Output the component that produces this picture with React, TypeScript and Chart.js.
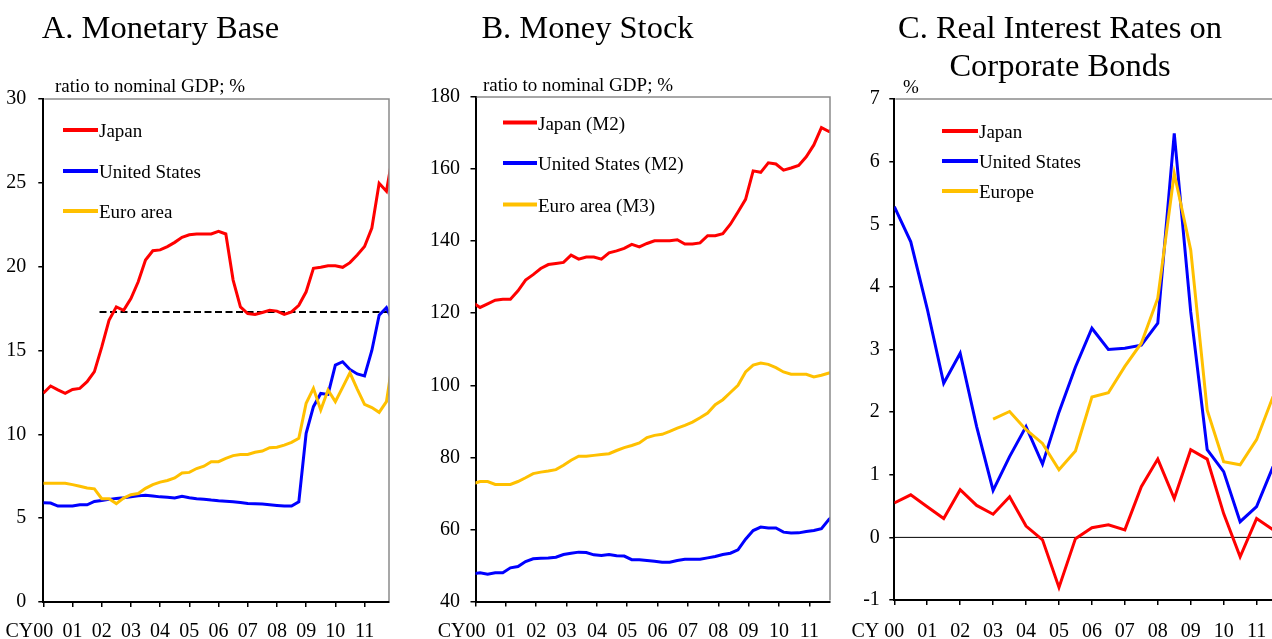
import React, { useEffect, useRef } from "react";
import { Chart, registerables } from "chart.js";

Chart.register(...registerables);

const SERIF = '"Liberation Serif", "Times New Roman", Times, serif';
const RED = "#ff0000";
const BLUE = "#0000ff";
const GOLD = "#ffc000";

// Year tick labels (CY2000 .. CY2011)
const yearLabels = ["00", "01", "02", "03", "04", "05", "06", "07", "08", "09", "10", "11"];

// ---- Panel A: Monetary Base, ratio to nominal GDP (%), quarterly from 2000Q1 ----
const baseJapan = [
  12.45, 12.88, 12.65, 12.44, 12.68, 12.74, 13.14, 13.74, 15.2, 16.8,
  17.6, 17.4, 18.1, 19.1, 20.4, 20.95, 21.0, 21.2, 21.45, 21.75,
  21.9, 21.95, 21.95, 21.95, 22.1, 21.95, 19.2, 17.6, 17.2, 17.15,
  17.27, 17.4, 17.35, 17.15, 17.3, 17.7, 18.5, 19.9, 19.96, 20.05,
  20.05, 19.96, 20.24, 20.7, 21.2, 22.3, 24.97, 24.5, 27.0,
];
const baseUS = [
  5.92, 5.9, 5.72, 5.72, 5.72, 5.8, 5.8, 6.0, 6.06, 6.12,
  6.18, 6.22, 6.27, 6.33, 6.37, 6.32, 6.27, 6.25, 6.2, 6.3,
  6.22, 6.16, 6.13, 6.08, 6.04, 6.01, 5.98, 5.93, 5.88, 5.86,
  5.84, 5.8, 5.76, 5.72, 5.72, 5.98, 10.06, 11.65, 12.44, 12.38,
  14.13, 14.33, 13.87, 13.6, 13.48, 15.0, 17.1, 17.55, 16.6,
];
const baseEuro = [
  7.08, 7.08, 7.08, 7.08, 7.0, 6.9, 6.8, 6.75, 6.16, 6.16,
  5.87, 6.2, 6.4, 6.47, 6.78, 7.0, 7.15, 7.25, 7.4, 7.7,
  7.73, 7.96, 8.1, 8.37, 8.37, 8.57, 8.73, 8.8, 8.8, 8.93,
  9.0, 9.2, 9.23, 9.36, 9.52, 9.76, 11.85, 12.74, 11.45, 12.64,
  11.95, 12.8, 13.67, 12.7, 11.79, 11.6, 11.31, 11.95, 14.8,
];
const baseRefLevel = 17.3; // dashed reference level
const baseRefFrom = 7.7; // quarter index where dashed line begins

// ---- Panel B: Money Stock, ratio to nominal GDP (%), quarterly ----
const m2Japan = [
  123.0, 121.6, 122.6, 123.6, 123.9, 123.9, 126.2, 129.2, 130.7, 132.4,
  133.5, 133.8, 134.1, 136.1, 135.0, 135.6, 135.6, 135.0, 136.75, 137.3,
  138.0, 139.1, 138.4, 139.35, 140.1, 140.1, 140.1, 140.4, 139.2, 139.2,
  139.5, 141.5, 141.5, 142.1, 144.7, 148.1, 151.6, 159.5, 159.1, 161.75,
  161.4, 159.7, 160.3, 161.0, 163.4, 166.7, 171.5, 170.4, 172.0,
];
const m2US = [
  47.7, 48.0, 47.6, 48.0, 48.0, 49.35, 49.7, 51.1, 51.85, 52.0,
  52.05, 52.3, 53.05, 53.4, 53.7, 53.6, 52.95, 52.8, 53.05, 52.7,
  52.6, 51.6, 51.6, 51.4, 51.2, 50.9, 50.9, 51.4, 51.7, 51.7,
  51.7, 52.1, 52.5, 53.05, 53.4, 54.35, 57.3, 59.7, 60.65, 60.4,
  60.4, 59.25, 59.0, 59.05, 59.45, 59.7, 60.2, 62.8, 64.5,
];
const m3Euro = [
  72.6, 73.3, 73.3, 72.5, 72.5, 72.5, 73.3, 74.35, 75.5, 75.9,
  76.2, 76.6, 77.8, 79.2, 80.3, 80.3, 80.55, 80.8, 81.0, 81.9,
  82.7, 83.3, 84.0, 85.5, 86.1, 86.4, 87.2, 88.1, 88.9, 89.8,
  91.0, 92.3, 94.6, 96.0, 98.0, 100.0, 103.7, 105.6, 106.2, 105.8,
  104.9, 103.7, 103.05, 103.05, 103.05, 102.3, 102.8, 103.4, 103.8,
];

// ---- Panel C: Real interest rates on corporate bonds (%), half-yearly ----
const rateJapan = [
  0.55, 0.68, 0.49, 0.3, 0.76, 0.51, 0.37, 0.65, 0.18, -0.04,
  -0.8, -0.02, 0.155, 0.2, 0.12, 0.81, 1.25, 0.62, 1.4, 1.25,
  0.38, -0.31, 0.3, 0.12,
];
const rateUS = [
  5.28, 4.72, 3.65, 2.46, 2.94, 1.77, 0.75, 1.29, 1.77, 1.17,
  2.0, 2.72, 3.34, 3.0, 3.02, 3.07, 3.42, 6.45, 3.6, 1.4,
  1.05, 0.25, 0.49, 1.13,
];
const rateEurope: (number | null)[] = [
  null, null, null, null, null, null, 1.89, 2.01, 1.72, 1.5,
  1.08, 1.38, 2.24, 2.31, 2.73, 3.1, 3.82, 5.81, 4.59, 2.03,
  1.21, 1.16, 1.56, 2.25,
];

type Series = { label: string; color: string; values: (number | null)[]; order: number };

interface PanelSpec {
  pageLeft: number;
  canvasWidth: number;
  yWidth: number;
  padRight: number;
  padTop: number;
  xHeight: number;
  yMin: number;
  yMax: number;
  yStep: number;
  yPad: number;
  xMax: number;
  pointStart: number;
  pointStep: number;
  tickStep: number;
  series: Series[];
  refLine?: { level: number; from: number };
  titles: string[];
  titleX: number;
  unit: string;
  unitX: number;
  unitY: number;
  legendX0: number;
  legendX1: number;
  legendRows: number[];
  cyPrefix: string;
  zeroLine: boolean;
}

const panels: PanelSpec[] = [
  {
    pageLeft: 0,
    canvasWidth: 420,
    yWidth: 43.3,
    padRight: 31,
    padTop: 99,
    xHeight: 37,
    yMin: 0,
    yMax: 30,
    yStep: 5,
    yPad: 12,
    xMax: 47.35,
    pointStart: 0,
    pointStep: 1,
    tickStep: 4,
    series: [
      { label: "Japan", color: RED, values: baseJapan, order: 3 },
      { label: "United States", color: BLUE, values: baseUS, order: 2 },
      { label: "Euro area", color: GOLD, values: baseEuro, order: 1 },
    ],
    refLine: { level: baseRefLevel, from: baseRefFrom },
    titles: ["A. Monetary Base"],
    titleX: 160.5,
    unit: "ratio to nominal GDP; %",
    unitX: 55,
    unitY: 92,
    legendX0: 63,
    legendX1: 98,
    legendRows: [130, 171, 211],
    cyPrefix: "CY",
    zeroLine: false,
  },
  {
    pageLeft: 420,
    canvasWidth: 430,
    yWidth: 55.5,
    padRight: 20,
    padTop: 97,
    xHeight: 37.5,
    yMin: 40,
    yMax: 180,
    yStep: 20,
    yPad: 10.5,
    xMax: 46.73,
    pointStart: -0.4,
    pointStep: 1,
    tickStep: 4,
    series: [
      { label: "Japan (M2)", color: RED, values: m2Japan, order: 3 },
      { label: "United States (M2)", color: BLUE, values: m2US, order: 2 },
      { label: "Euro area (M3)", color: GOLD, values: m3Euro, order: 1 },
    ],
    titles: ["B. Money Stock"],
    titleX: 167.5,
    unit: "ratio to nominal GDP; %",
    unitX: 63,
    unitY: 91,
    legendX0: 83,
    legendX1: 117,
    legendRows: [122.5, 163, 204.5],
    cyPrefix: "CY",
    zeroLine: false,
  },
  {
    pageLeft: 840,
    canvasWidth: 460,
    yWidth: 54.3,
    padRight: 22,
    padTop: 99,
    xHeight: 39,
    yMin: -1,
    yMax: 7,
    yStep: 1,
    yPad: 9.5,
    xMax: 23.3,
    pointStart: 0,
    pointStep: 1,
    tickStep: 2,
    series: [
      { label: "Japan", color: RED, values: rateJapan, order: 3 },
      { label: "United States", color: BLUE, values: rateUS, order: 2 },
      { label: "Europe", color: GOLD, values: rateEurope, order: 1 },
    ],
    titles: ["C. Real Interest Rates on", "Corporate Bonds"],
    titleX: 220,
    unit: "%",
    unitX: 63,
    unitY: 93,
    legendX0: 102,
    legendX1: 138,
    legendRows: [131, 161, 191],
    cyPrefix: "CY ",
    zeroLine: true,
  },
];

function makeOverlay(spec: PanelSpec) {
  return {
    id: "overlay",
    beforeDatasetsDraw(chart: any) {
      if (!spec.zeroLine) return;
      const { left, right } = chart.chartArea;
      const y = chart.scales.y.getPixelForValue(0);
      const ctx = chart.ctx;
      ctx.save();
      ctx.strokeStyle = "#000";
      ctx.lineWidth = 1;
      ctx.beginPath();
      ctx.moveTo(left, y);
      ctx.lineTo(right, y);
      ctx.stroke();
      ctx.restore();
    },
    afterDraw(chart: any) {
      const ctx = chart.ctx;
      const { left, right, top, bottom } = chart.chartArea;
      ctx.save();
      // gray frame on top and right
      ctx.strokeStyle = "#8a8a8a";
      ctx.lineWidth = 1.5;
      ctx.beginPath();
      ctx.moveTo(left + 1, top);
      ctx.lineTo(right, top);
      ctx.lineTo(right, bottom - 1);
      ctx.stroke();

      ctx.fillStyle = "#000";
      // titles
      ctx.font = `32.5px ${SERIF}`;
      ctx.textAlign = "center";
      ctx.textBaseline = "alphabetic";
      spec.titles.forEach((t, i) => ctx.fillText(t, spec.titleX, 38 + i * 38));
      // unit label
      ctx.font = `19px ${SERIF}`;
      ctx.textAlign = "left";
      ctx.fillText(spec.unit, spec.unitX, spec.unitY);
      // legend
      spec.series.forEach((s, i) => {
        const y = spec.legendRows[i];
        ctx.strokeStyle = s.color;
        ctx.lineWidth = 4;
        ctx.beginPath();
        ctx.moveTo(spec.legendX0, y);
        ctx.lineTo(spec.legendX1, y);
        ctx.stroke();
        ctx.fillStyle = "#000";
        ctx.fillText(s.label, spec.legendX1 + 1, y + 7);
      });
      // x tick labels
      const xs = chart.scales.x;
      ctx.font = `20px ${SERIF}`;
      yearLabels.forEach((lab, i) => {
        const px = xs.getPixelForValue(i * spec.tickStep);
        ctx.textAlign = "center";
        ctx.fillText(lab, px, 636.5);
        if (i === 0) {
          const w = ctx.measureText(lab).width;
          ctx.textAlign = "right";
          ctx.fillText(spec.cyPrefix, px - w / 2, 636.5);
        }
      });
      ctx.restore();
    },
  };
}

function Panel({ spec }: { spec: PanelSpec }) {
  const ref = useRef<HTMLCanvasElement | null>(null);
  useEffect(() => {
    if (!ref.current) return;
    const toPoints = (vals: (number | null)[]) =>
      vals.map((v, i) => ({ x: spec.pointStart + i * spec.pointStep, y: v }));
    const datasets: any[] = spec.series.map((s) => ({
      label: s.label,
      data: toPoints(s.values),
      borderColor: s.color,
      backgroundColor: s.color,
      borderWidth: 3,
      pointRadius: 0,
      fill: false,
      tension: 0,
      spanGaps: false,
      order: s.order,
      clip: { left: 0, right: 0, top: 4, bottom: 4 },
    }));
    if (spec.refLine) {
      datasets.push({
        label: "reference",
        data: [
          { x: spec.refLine.from, y: spec.refLine.level },
          { x: spec.xMax, y: spec.refLine.level },
        ],
        borderColor: "#000",
        borderWidth: 2,
        borderDash: [7, 3.5],
        pointRadius: 0,
        fill: false,
        order: 4,
        clip: { left: 0, right: 0, top: 4, bottom: 4 },
      });
    }
    const xTicks: number[] = yearLabels.map((_, i) => i * spec.tickStep);
    const gridOpts = {
      display: true,
      drawOnChartArea: false,
      drawTicks: true,
      tickLength: 5,
      color: "#000",
      lineWidth: 1.5,
    };
    const chart = new Chart(ref.current, {
      type: "line",
      data: { datasets },
      plugins: [makeOverlay(spec)],
      options: {
        responsive: false,
        animation: false,
        events: [],
        layout: {
          autoPadding: false,
          padding: { left: 0, right: spec.padRight, top: spec.padTop, bottom: 0 },
        },
        plugins: {
          legend: { display: false },
          tooltip: { enabled: false },
          title: { display: false },
        },
        scales: {
          x: {
            type: "linear",
            min: 0,
            max: spec.xMax,
            afterBuildTicks: (s: any) => {
              s.ticks = xTicks.map((v) => ({ value: v }));
            },
            afterFit: (s: any) => {
              s.height = spec.xHeight;
            },
            ticks: { display: false },
            grid: gridOpts,
            border: { display: true, color: "#000", width: 2 },
          },
          y: {
            type: "linear",
            min: spec.yMin,
            max: spec.yMax,
            afterFit: (s: any) => {
              s.width = spec.yWidth;
            },
            ticks: {
              stepSize: spec.yStep,
              color: "#000",
              padding: spec.yPad,
              font: { family: SERIF, size: 20 },
            },
            grid: gridOpts,
            border: { display: true, color: "#000", width: 2 },
          },
        },
      } as any,
    });
    return () => chart.destroy();
  }, [spec]);
  return (
    <canvas
      ref={ref}
      width={spec.canvasWidth}
      height={639}
      style={{
        position: "absolute",
        left: spec.pageLeft,
        top: 0,
        width: spec.canvasWidth,
        height: 639,
      }}
    />
  );
}

export default function App() {
  return (
    <div
      style={{
        position: "fixed",
        left: 0,
        top: 0,
        width: 1272,
        height: 639,
        overflow: "hidden",
        background: "#fff",
      }}
    >
      {panels.map((p, i) => (
        <Panel key={i} spec={p} />
      ))}
    </div>
  );
}
